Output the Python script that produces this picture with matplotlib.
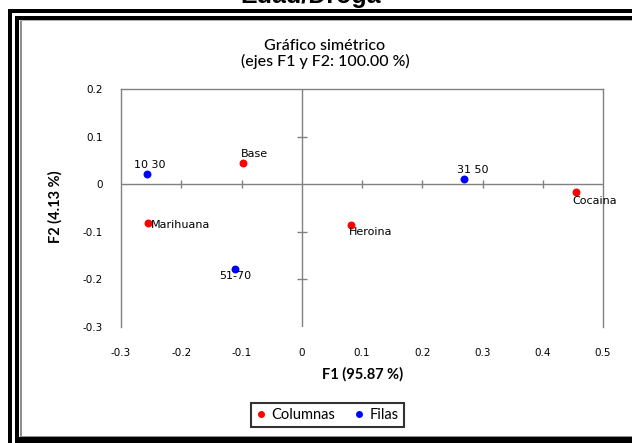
import matplotlib
matplotlib.use("Agg")
import matplotlib.pyplot as plt
from matplotlib.patches import Rectangle
from matplotlib.lines import Line2D

# ---- data ----
col_labels = ["Base", "Marihuana", "Heroina", "Cocaina"]
col_f1 = [-0.098, -0.256, 0.082, 0.456]
col_f2 = [0.044, -0.082, -0.086, -0.017]

row_labels = ["10 30", "31 50", "51-70"]
row_f1 = [-0.257, 0.269, -0.111]
row_f2 = [0.022, 0.010, -0.179]

xticks = [-0.3, -0.2, -0.1, 0, 0.1, 0.2, 0.3, 0.4, 0.5]
xticklabels = ["-0.3", "-0.2", "-0.1", "0", "0.1", "0.2", "0.3", "0.4", "0.5"]
yticks = [0.2, 0.1, 0, -0.1, -0.2, -0.3]
yticklabels = ["0.2", "0.1", "0", "-0.1", "-0.2", "-0.3"]

main_title = "Edad/Droga"
plot_title = "Gráfico simétrico\n(ejes F1 y F2: 100.00 %)"
xlabel = "F1 (95.87 %)"
ylabel = "F2 (4.13 %)"
legend_labels = ["Columnas", "Filas"]

# label offsets (pixels, right/up)
col_off = [(-2, 9, "left"), (3, -2, "left"), (-2, -7, "left"), (-4, -9, "left")]
row_off = [(3, 9, "center"), (9, 9, "center"), (0, -7, "center")]

W, H = 632, 443
fig = plt.figure(figsize=(W / 100, H / 100), dpi=100)

def prect(x0, y0, x1, y1, color):
    fig.add_artist(Rectangle((x0 / W, 1 - y1 / H), (x1 - x0) / W, (y1 - y0) / H,
                             transform=fig.transFigure, facecolor=color,
                             edgecolor="none", zorder=0))

# frame
prect(8, 9, 12, 443, "black")
prect(8, 9, 632, 13, "black")
prect(15, 16, 19, 443, "black")
prect(15, 16, 632, 20, "black")
prect(15, 437, 632, 443, "black")
prect(20, 20, 22, 437, "#909090")
prect(20, 20, 632, 21, "#b0b0b0")
prect(22, 436, 632, 437, "#909090")

fig.text(311 / W, 1 - 3 / H, main_title, ha="center", va="baseline",
         fontsize=18, fontweight="bold", family="Liberation Sans")

ax = fig.add_axes([121 / W, 1 - 327 / H, 482 / W, 238 / H])
ax.set_xlim(-0.3, 0.5)
ax.set_ylim(-0.3, 0.2)
for s in ["left", "right", "top"]:
    ax.spines[s].set_color("#808080")
    ax.spines[s].set_linewidth(1)
ax.spines["bottom"].set_visible(False)

ax.set_xticks(xticks)
ax.set_xticklabels(xticklabels)
ax.set_yticks(yticks)
ax.set_yticklabels(yticklabels)
ax.tick_params(length=0, labelsize=7.5, colors="black")
ax.tick_params(axis="x", pad=15)
ax.tick_params(axis="y", pad=13)

# center axes with ticks
ax.axhline(0, color="#808080", lw=1, zorder=1)
ax.axvline(0, color="#808080", lw=1, zorder=1)
xt_in = [t for t in xticks if t not in (0, -0.3, 0.5)]
yt_in = [t for t in yticks if t not in (0, 0.2, -0.3)]
ax.plot(xt_in, [0] * len(xt_in), linestyle="none", marker="|", markersize=6,
        color="#808080", markeredgewidth=1, zorder=1)
ax.plot([0] * len(yt_in), yt_in, linestyle="none", marker="_", markersize=7,
        color="#808080", markeredgewidth=1, zorder=1)

ax.scatter(col_f1, col_f2, s=22, color="#ff0000", zorder=3)
ax.scatter(row_f1, row_f2, s=22, color="#0000ff", zorder=3)

for x, y, lab, (dx, dy, ha) in zip(col_f1, col_f2, col_labels, col_off):
    ax.annotate(lab, (x, y), xytext=(dx, dy), textcoords="offset pixels",
                ha=ha, va="center", fontsize=8, annotation_clip=False)
for x, y, lab, (dx, dy, ha) in zip(row_f1, row_f2, row_labels, row_off):
    ax.annotate(lab, (x, y), xytext=(dx, dy), textcoords="offset pixels",
                ha=ha, va="center", fontsize=8, annotation_clip=False)

fig.text(325 / W, 1 - 54 / H, plot_title, ha="center", va="center",
         fontsize=11.5, family="Lato", fontweight="medium", linespacing=1.15)
fig.text(363 / W, 1 - 374 / H, xlabel, ha="center", va="center",
         fontsize=10.5, fontweight="bold", family="Lato")
fig.text(55 / W, 1 - 207 / H, ylabel, ha="center", va="center", rotation=90,
         fontsize=10.5, fontweight="bold", family="Lato")

handles = [Line2D([], [], linestyle="none", marker="o", markersize=4, color="#ff0000"),
           Line2D([], [], linestyle="none", marker="o", markersize=4, color="#0000ff")]
leg = fig.legend(handles, legend_labels, loc="center",
                 bbox_to_anchor=(327.5 / W, 1 - 415 / H), ncol=2,
                 frameon=True, fancybox=False, prop={"family": "Lato", "size": 10.5},
                 handlelength=0.6, handletextpad=0.4, columnspacing=1.4,
                 borderpad=0.35)
leg.get_frame().set_edgecolor("black")
leg.get_frame().set_linewidth(1.5)

fig.savefig("out.png", dpi=100)
